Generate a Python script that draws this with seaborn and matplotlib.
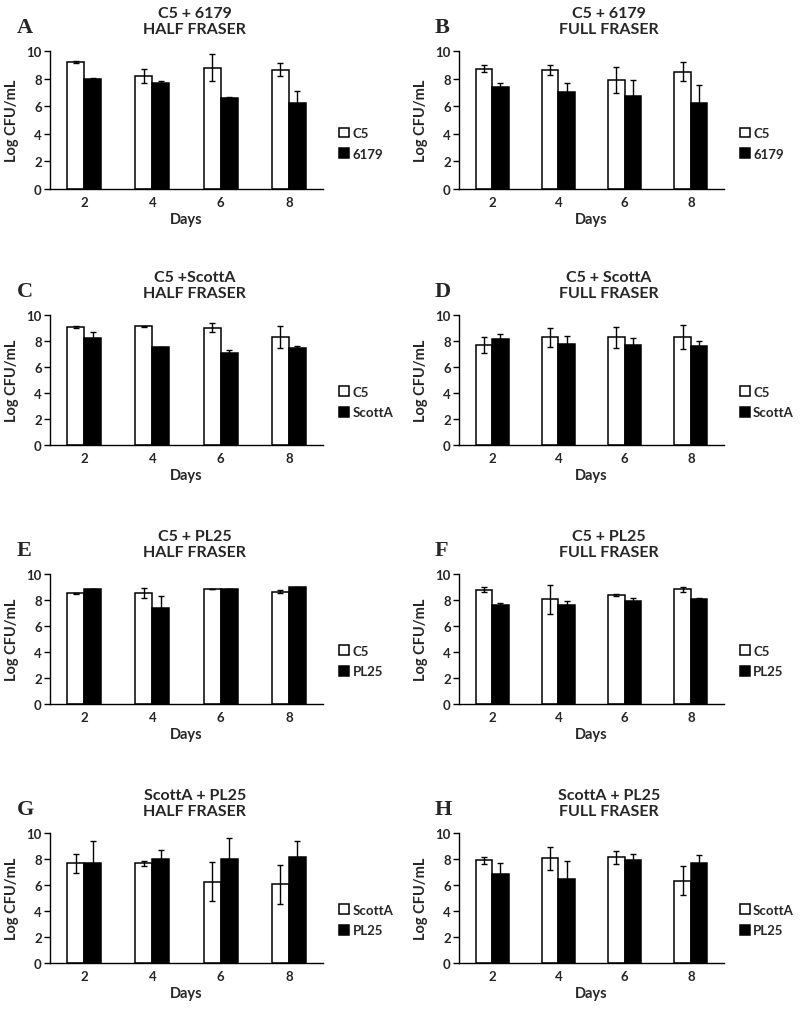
import numpy as np
import pandas as pd
import seaborn as sns
import matplotlib.pyplot as plt

sns.set_theme(style="white")
plt.rcParams.update({
    "font.family": ["Lato", "DejaVu Sans"],
    "font.weight": "bold",
    "axes.labelweight": "bold",
    "axes.titleweight": "bold",
})

DAYS = ["2", "4", "6", "8"]

# ---- data (mean, error) ----
a_c5 = [9.2, 8.2, 8.8, 8.65]
a_c5_err = [0.06, 0.5, 1.0, 0.45]
a_6179 = [7.95, 7.65, 6.6, 6.2]
a_6179_err = [0.1, 0.2, 0.1, 0.87]

b_c5 = [8.73, 8.59, 7.9, 8.5]
b_c5_err = [0.25, 0.36, 0.92, 0.7]
b_6179 = [7.4, 7.06, 6.76, 6.2]
b_6179_err = [0.25, 0.63, 1.14, 1.34]

c_c5 = [9.08, 9.13, 9.03, 8.33]
c_c5_err = [0.1, 0.05, 0.33, 0.85]
c_scotta = [8.23, 7.51, 7.05, 7.44]
c_scotta_err = [0.5, 0.05, 0.23, 0.18]

d_c5 = [7.67, 8.29, 8.29, 8.31]
d_c5_err = [0.61, 0.72, 0.8, 0.93]
d_scotta = [8.13, 7.8, 7.7, 7.62]
d_scotta_err = [0.41, 0.59, 0.54, 0.38]

e_c5 = [8.53, 8.55, 8.86, 8.63]
e_c5_err = [0.03, 0.4, 0.02, 0.12]
e_pl25 = [8.84, 7.36, 8.86, 8.97]
e_pl25_err = [0.03, 0.96, 0.02, 0.05]

f_c5 = [8.79, 8.04, 8.4, 8.81]
f_c5_err = [0.2, 1.1, 0.07, 0.2]
f_pl25 = [7.63, 7.58, 7.89, 8.07]
f_pl25_err = [0.15, 0.33, 0.28, 0.05]

g_scotta = [7.66, 7.66, 6.25, 6.04]
g_scotta_err = [0.74, 0.2, 1.5, 1.5]
g_pl25 = [7.66, 8.0, 8.0, 8.17]
g_pl25_err = [1.72, 0.67, 1.6, 1.18]

h_scotta = [7.91, 8.04, 8.12, 6.34]
h_scotta_err = [0.27, 0.85, 0.49, 1.14]
h_pl25 = [6.83, 6.44, 7.91, 7.7]
h_pl25_err = [0.85, 1.44, 0.46, 0.64]

PANELS = [
    ("A", "C5 + 6179\nHALF FRASER", ("C5", "6179"), a_c5, a_c5_err, a_6179, a_6179_err),
    ("B", "C5 + 6179\nFULL FRASER", ("C5", "6179"), b_c5, b_c5_err, b_6179, b_6179_err),
    ("C", "C5 +ScottA\nHALF FRASER", ("C5", "ScottA"), c_c5, c_c5_err, c_scotta, c_scotta_err),
    ("D", "C5 + ScottA\nFULL FRASER", ("C5", "ScottA"), d_c5, d_c5_err, d_scotta, d_scotta_err),
    ("E", "C5 + PL25\nHALF FRASER", ("C5", "PL25"), e_c5, e_c5_err, e_pl25, e_pl25_err),
    ("F", "C5 + PL25\nFULL FRASER", ("C5", "PL25"), f_c5, f_c5_err, f_pl25, f_pl25_err),
    ("G", "ScottA + PL25\nHALF FRASER", ("ScottA", "PL25"), g_scotta, g_scotta_err, g_pl25, g_pl25_err),
    ("H", "ScottA + PL25\nFULL FRASER", ("ScottA", "PL25"), h_scotta, h_scotta_err, h_pl25, h_pl25_err),
]

W, H = 800, 1012
fig = plt.figure(figsize=(W / 100, H / 100), dpi=100)

# axes boxes in pixels: (left, top, width, height)
col_x = [(50, 273), (459, 265)]
row_y = [52, 316, 575, 834]
AX_H = 130

for i, (letter, title, names, m1, e1, m2, e2) in enumerate(PANELS):
    row, col = divmod(i, 2)
    left, width = col_x[col]
    top = row_y[row]
    h = 138 if row == 0 else AX_H
    ax = fig.add_axes([left / W, 1 - (top + h) / H, width / W, h / H])

    df = pd.DataFrame({
        "Days": DAYS * 2,
        "Strain": [names[0]] * 4 + [names[1]] * 4,
        "Value": m1 + m2,
    })
    errs = [e1, e2]

    sns.barplot(data=df, x="Days", y="Value", hue="Strain", order=DAYS,
                hue_order=list(names), palette={names[0]: "white", names[1]: "black"},
                edgecolor="black", linewidth=1.1, width=0.5, errorbar=None,
                legend=False, ax=ax)

    for cont, err in zip(ax.containers, errs):
        xs = [b.get_x() + b.get_width() / 2 for b in cont]
        ys = [b.get_height() for b in cont]
        ax.errorbar(xs, ys, yerr=err, fmt="none", ecolor="black",
                    elinewidth=1.0, capsize=2.2, capthick=1.0, zorder=5)

    ax.set_ylim(0, 10)
    ax.set_xlim(-0.5, 3.5)
    ax.set_yticks(range(0, 11, 2))
    ax.tick_params(axis="y", length=4, width=1, color="black", direction="out",
                   labelsize=9.5, pad=2, left=True)
    ax.tick_params(axis="x", length=0, labelsize=9.5, pad=5)
    for lbl in ax.get_xticklabels() + ax.get_yticklabels():
        lbl.set_fontweight("bold")
    sns.despine(ax=ax)
    for s in ("left", "bottom"):
        ax.spines[s].set_color("black")
        ax.spines[s].set_linewidth(1.0)

    ax.set_ylabel("Log CFU/mL", fontsize=10.5, labelpad=5)
    ax.set_xlabel("Days", fontsize=10.5, labelpad=3)

    tx = 0.53 if col == 0 else 0.565
    ax.set_title(title, fontsize=11.5, x=tx, pad=13, linespacing=1.15)

    ax.legend(ax.containers, list(names), loc="center left",
              bbox_to_anchor=(1.04, 0.33), frameon=False, fontsize=9.5,
              handlelength=0.75, handleheight=0.75, handletextpad=0.25,
              labelspacing=0.65, borderaxespad=0)

    # panel letter
    fig.text((left - 33 + (9 if col == 1 else 0)) / W, 1 - (top - 19) / H, letter,
             family=["Liberation Serif", "DejaVu Serif"], fontweight="bold",
             fontsize=16, va="baseline", ha="left")

fig.savefig("out.png", dpi=100, facecolor="white")
